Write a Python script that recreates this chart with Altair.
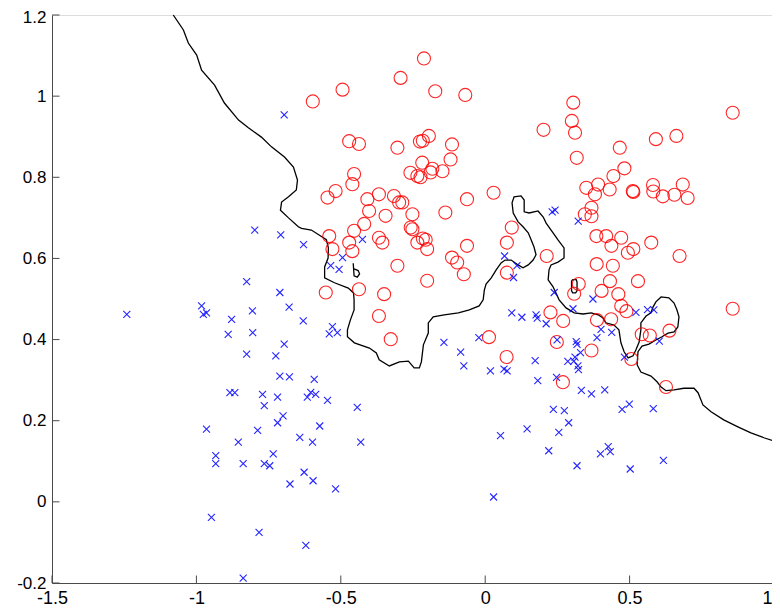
import altair as alt
import pandas as pd

# ---------------- data ----------------
red_x = [-0.212, -0.293, -0.494, -0.597, -0.173, -0.069, -0.471, -0.437, -0.304, -0.226,
         -0.216, -0.195, -0.115, -0.120, -0.218, -0.183, -0.189, -0.148, -0.259, -0.235,
         -0.224, -0.454, -0.460, -0.518, -0.546, -0.368, -0.408, -0.316, -0.298, -0.287,
         -0.402, -0.345, -0.252, -0.138, -0.063, 0.029, -0.419, -0.454, -0.258, -0.252,
         -0.540, -0.529, -0.471, -0.460, -0.368, -0.356, -0.235, -0.216, -0.206, -0.201,
         -0.063, -0.115, -0.097, -0.074, -0.304, -0.201, -0.437, -0.552, -0.350, 0.092,
         0.075, 0.075, -0.368, -0.327, 0.013, 0.074, 0.213, 0.202, 0.305, 0.300,
         0.311, 0.317, 0.466, 0.591, 0.662, 0.857, 0.482, 0.444, 0.350, 0.391,
         0.380, 0.431, 0.511, 0.513, 0.581, 0.582, 0.615, 0.655, 0.684, 0.701,
         0.368, 0.345, 0.368, 0.385, 0.419, 0.471, 0.437, 0.494, 0.513, 0.575,
         0.673, 0.386, 0.442, 0.432, 0.529, 0.324, 0.308, 0.403, 0.461, 0.226,
         0.270, 0.471, 0.489, 0.387, 0.436, 0.248, 0.368, 0.542, 0.570, 0.638,
         0.506, 0.269, 0.626, 0.857]
red_y = [1.093, 1.045, 1.016, 0.987, 1.012, 1.003, 0.889, 0.882, 0.873, 0.888,
         0.890, 0.902, 0.881, 0.844, 0.836, 0.821, 0.812, 0.815, 0.811, 0.803,
         0.800, 0.808, 0.783, 0.766, 0.750, 0.758, 0.746, 0.754, 0.738, 0.738,
         0.717, 0.705, 0.709, 0.713, 0.746, 0.762, 0.685, 0.668, 0.676, 0.672,
         0.655, 0.623, 0.639, 0.618, 0.651, 0.639, 0.639, 0.649, 0.646, 0.623,
         0.631, 0.602, 0.590, 0.561, 0.582, 0.545, 0.524, 0.516, 0.512, 0.676,
         0.639, 0.565, 0.458, 0.401, 0.406, 0.357, 0.606, 0.917, 0.984, 0.939,
         0.910, 0.848, 0.873, 0.894, 0.902, 0.959, 0.822, 0.803, 0.774, 0.782,
         0.758, 0.770, 0.766, 0.764, 0.781, 0.765, 0.753, 0.757, 0.782, 0.749,
         0.725, 0.709, 0.704, 0.655, 0.655, 0.651, 0.631, 0.614, 0.623, 0.639,
         0.606, 0.586, 0.582, 0.544, 0.544, 0.537, 0.513, 0.520, 0.512, 0.467,
         0.446, 0.483, 0.470, 0.448, 0.450, 0.394, 0.373, 0.413, 0.410, 0.422,
         0.352, 0.295, 0.283, 0.476]

blue_x = [-0.696, -0.798, -0.708, -0.826, -0.711, -0.629, -0.425, -0.494, -0.535, -0.506,
          0.067, 0.110, 0.098, 0.232, 0.242, 0.322, 0.239, 0.373, 0.304, 0.211,
          0.249, 0.315, 0.318, 0.330, 0.387, 0.401, 0.438, 0.522, 0.562, 0.584,
          0.603, 0.482, 0.286, 0.307, 0.321, 0.323, 0.311, 0.247, 0.333, 0.368,
          0.414, 0.499, 0.474, 0.582, 0.236, 0.274, 0.289, 0.255, 0.220, 0.318,
          0.399, 0.426, 0.433, 0.502, 0.617, 0.176, 0.180, 0.173, 0.182, 0.145,
          0.053, 0.029, -0.143, -0.085, -0.074, -0.022, 0.018, 0.065, 0.076, 0.092,
          0.127, -0.630, -0.529, -0.540, -0.512, -0.678, -0.592, -0.604, -0.616, -0.587,
          -0.546, -0.443, -0.573, -0.642, -0.598, -0.431, -0.627, -0.596, -0.676, -0.518,
          -0.621, -1.241, -0.982, -0.976, -0.965, -0.878, -0.806, -0.679, -0.890, -0.805,
          -0.696, -0.826, -0.725, -0.711, -0.884, -0.867, -0.771, -0.719, -0.765, -0.700,
          -0.719, -0.965, -0.788, -0.855, -0.734, -0.933, -0.933, -0.838, -0.765, -0.746,
          -0.948, -0.783, -0.838]
blue_y = [0.954, 0.670, 0.658, 0.543, 0.516, 0.634, 0.647, 0.602, 0.582, 0.573,
          0.606, 0.582, 0.553, 0.715, 0.719, 0.692, 0.516, 0.500, 0.476, 0.439,
          0.399, 0.395, 0.388, 0.368, 0.405, 0.425, 0.418, 0.467, 0.474, 0.473,
          0.396, 0.357, 0.346, 0.347, 0.335, 0.326, 0.357, 0.307, 0.275, 0.266,
          0.276, 0.241, 0.228, 0.230, 0.228, 0.225, 0.195, 0.171, 0.126, 0.089,
          0.118, 0.136, 0.124, 0.081, 0.102, 0.461, 0.453, 0.348, 0.299, 0.180,
          0.163, 0.012, 0.393, 0.369, 0.335, 0.405, 0.323, 0.327, 0.323, 0.466,
          0.455, 0.446, 0.432, 0.414, 0.417, 0.308, 0.302, 0.270, 0.258, 0.265,
          0.250, 0.233, 0.187, 0.159, 0.147, 0.147, 0.073, 0.052, 0.044, 0.032,
          -0.107, 0.462, 0.483, 0.462, 0.466, 0.450, 0.471, 0.480, 0.413, 0.417,
          0.389, 0.364, 0.360, 0.310, 0.269, 0.269, 0.265, 0.258, 0.237, 0.212,
          0.195, 0.179, 0.176, 0.147, 0.118, 0.114, 0.094, 0.094, 0.094, 0.089,
          -0.038, -0.075, -0.188]

# decision boundary: main curve plus two small closed islands
bound_x = [-1.080, -1.045, -1.028, -0.999, -0.982, -0.937, -0.903, -0.854, -0.820, -0.775,
           -0.740, -0.695, -0.664, -0.650, -0.654, -0.681, -0.705, -0.709, -0.681, -0.647,
           -0.636, -0.602, -0.567, -0.550, -0.543, -0.544, -0.556, -0.556, -0.522, -0.474,
           -0.456, -0.454, -0.454, -0.467, -0.477, -0.477, -0.453, -0.401, -0.377, -0.367,
           -0.332, -0.297, -0.266, -0.246, -0.228, -0.221, -0.214, -0.197, -0.197, -0.180,
           -0.142, -0.093, -0.055, -0.021, -0.007, -0.003, 0.003, 0.021, 0.038, 0.055,
           0.069, 0.090, 0.114, 0.131, 0.149, 0.166, 0.176, 0.169, 0.159, 0.149,
           0.131, 0.114, 0.097, 0.093, 0.100, 0.124, 0.135, 0.135, 0.152, 0.183,
           0.201, 0.211, 0.235, 0.252, 0.273, 0.273, 0.252, 0.228, 0.221, 0.218,
           0.235, 0.256, 0.280, 0.308, 0.339, 0.367, 0.391, 0.408, 0.418, 0.446,
           0.463, 0.470, 0.481, 0.495, 0.512, 0.522, 0.533, 0.539, 0.539, 0.557,
           0.574, 0.581, 0.591, 0.609, 0.636, 0.654, 0.664, 0.671, 0.667, 0.654,
           0.633, 0.612, 0.591, 0.567, 0.543, 0.529, 0.526, 0.539, 0.574, 0.595,
           0.609, 0.626, 0.654, 0.688, 0.723, 0.737, 0.754, 0.782, 0.826, 0.875,
           0.920, 0.965, 0.999]
bound_y = [1.200, 1.163, 1.131, 1.101, 1.064, 1.027, 0.983, 0.941, 0.922, 0.899,
           0.875, 0.850, 0.825, 0.793, 0.769, 0.752, 0.739, 0.719, 0.700, 0.678,
           0.674, 0.670, 0.654, 0.646, 0.626, 0.601, 0.579, 0.552, 0.540, 0.527,
           0.515, 0.498, 0.473, 0.448, 0.424, 0.407, 0.392, 0.379, 0.367, 0.350,
           0.335, 0.345, 0.347, 0.330, 0.330, 0.345, 0.387, 0.416, 0.441, 0.456,
           0.461, 0.466, 0.473, 0.483, 0.498, 0.522, 0.537, 0.552, 0.572, 0.589,
           0.596, 0.596, 0.584, 0.577, 0.584, 0.596, 0.609, 0.628, 0.646, 0.663,
           0.678, 0.690, 0.712, 0.737, 0.752, 0.754, 0.744, 0.715, 0.712, 0.717,
           0.702, 0.687, 0.663, 0.646, 0.626, 0.601, 0.591, 0.584, 0.572, 0.547,
           0.530, 0.498, 0.478, 0.466, 0.463, 0.466, 0.461, 0.453, 0.441, 0.436,
           0.424, 0.392, 0.370, 0.355, 0.360, 0.375, 0.394, 0.424, 0.441, 0.458,
           0.466, 0.480, 0.493, 0.505, 0.503, 0.490, 0.473, 0.456, 0.431, 0.419,
           0.416, 0.407, 0.399, 0.389, 0.384, 0.370, 0.338, 0.320, 0.310, 0.296,
           0.283, 0.274, 0.276, 0.280, 0.280, 0.269, 0.239, 0.222, 0.202, 0.185,
           0.170, 0.158, 0.150]
island1_x = [-0.457, -0.454, -0.443, -0.435, -0.440, -0.454]
island1_y = [0.588, 0.557, 0.554, 0.562, 0.570, 0.574]
island2_x = [0.299, 0.304, 0.315, 0.318, 0.318, 0.313, 0.303, 0.299, 0.299]
island2_y = [0.545, 0.548, 0.548, 0.542, 0.520, 0.515, 0.515, 0.520, 0.545]

x_ticks = [-1.5, -1, -0.5, 0, 0.5, 1]
y_ticks = [-0.2, 0, 0.2, 0.4, 0.6, 0.8, 1, 1.2]

# ---------------- tables ----------------
red_df = pd.DataFrame({"x": red_x, "y": red_y})
blue_df = pd.DataFrame({"x": blue_x, "y": blue_y})
segs = []
for sid, (xs, ys) in enumerate([(bound_x, bound_y), (island1_x, island1_y), (island2_x, island2_y)]):
    for i, (a, b) in enumerate(zip(xs, ys)):
        segs.append({"x": a, "y": b, "seg": sid, "ord": i})
line_df = pd.DataFrame(segs)
xt_df = pd.DataFrame({"v": x_ticks})
yt_df = pd.DataFrame({"v": y_ticks})

W, H = 722, 568
AX = "#4a4a4a"
FONT = "Liberation Sans"

xscale = alt.Scale(domain=[-1.5, 1], nice=False, zero=False)
yscale = alt.Scale(domain=[-0.2, 1.2], nice=False, zero=False)
xaxis = alt.Axis(values=x_ticks, labelExpr="toString(datum.value)", ticks=False, grid=False,
                 title=None, domainColor=AX, labelColor="black", labelFont=FONT,
                 labelFontSize=18, labelPadding=6, labelFlush=False, labelOverlap=False,
                 labelAlign={"condition": {"test": "datum.value == 1", "value": "right"},
                             "value": "center"},
                 labelOffset={"condition": {"test": "datum.value == 1", "value": -2},
                              "value": 0})
yaxis = alt.Axis(values=y_ticks, labelExpr="toString(datum.value)", ticks=False, grid=False,
                 title=None, domainColor=AX, labelColor="black", labelFont=FONT,
                 labelFontSize=17, labelPadding=6, labelFlush=False, labelOverlap=False,
                 labelOffset={"condition": {"test": "datum.value == 1.2", "value": 2},
                              "value": 0})

def X(field="x"):
    return alt.X(f"{field}:Q", scale=xscale, axis=xaxis)

def Y(field="y"):
    return alt.Y(f"{field}:Q", scale=yscale, axis=yaxis)

xtick_layer = alt.Chart(xt_df).mark_rule(color=AX, strokeWidth=1).encode(
    x=X("v"), y=alt.value(H), y2=alt.value(H - 7.5))
ytick_layer = alt.Chart(yt_df).mark_rule(color=AX, strokeWidth=1).encode(
    y=Y("v"), x=alt.value(0), x2=alt.value(7.5))

line_layer = alt.Chart(line_df).mark_line(color="black", strokeWidth=1.3).encode(
    x=X(), y=Y(), detail="seg:N", order="ord:Q")

red_layer = alt.Chart(red_df).mark_point(
    shape="circle", filled=False, color="#ff0000", strokeWidth=1.1, size=170, opacity=0.85
).encode(x=X(), y=Y())

blue_layer = alt.Chart(blue_df).mark_point(
    shape="M-1,-1L1,1M1,-1L-1,1", filled=False, color="#0000ff", strokeWidth=1.1, size=49,
    opacity=0.85
).encode(x=X(), y=Y())

chart = alt.layer(line_layer, red_layer, blue_layer, xtick_layer, ytick_layer).properties(
    width=W, height=H,
    autosize=alt.AutoSizeParams(type="none"),
    padding={"left": 44, "top": 7, "right": -2, "bottom": 24},
).configure_view(stroke=None).configure(background="white")

chart.save("out.html", embed_options={"renderer": "svg", "actions": False})
